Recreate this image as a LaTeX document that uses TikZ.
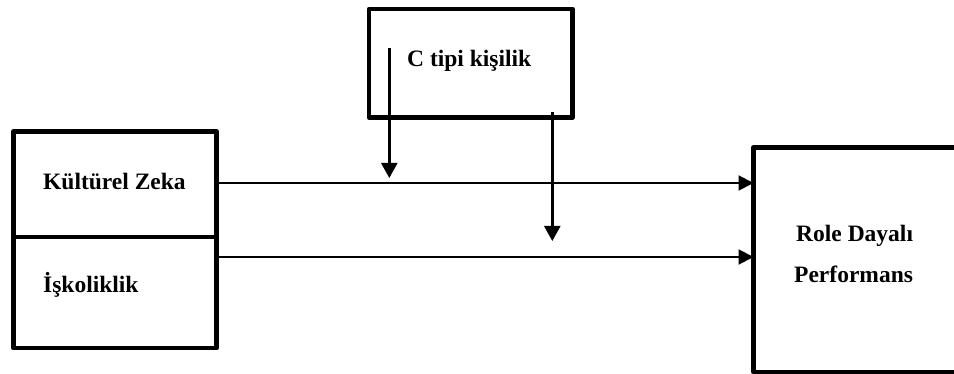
\documentclass[tikz,border=0pt]{standalone}
\usepackage{fontspec}
\setmainfont{Liberation Serif}
\usetikzlibrary{arrows.meta}
\begin{document}
\begin{tikzpicture}[x=1pt,y=-1pt,
  box/.style={draw, line width=4.5pt, line join=round, rectangle, inner sep=0pt, outer sep=0pt},
  lbl/.style={font=\fontsize{23.5}{28}\selectfont\bfseries, inner sep=0pt, anchor=base west},
  link/.style={line width=2pt, -{Triangle[length=15pt,width=15pt]}},
  mod/.style={line width=2.4pt, -{Triangle[length=15pt,width=16pt]}}]
  \useasboundingbox (0,0) rectangle (954,374);

  % predictor boxes
  \node[box, minimum width=203.4pt, minimum height=105.5pt] (kz) at (115,184.25) {};
  \node[box, minimum width=203.4pt, minimum height=111pt] (isk) at (115,292.5) {};
  % moderator box
  \node[box, minimum width=203.5pt, minimum height=108.5pt] (ct) at (470.75,63.25) {};
  % outcome box
  \node[box, minimum width=216.5pt, minimum height=224.5pt] (rdp) at (861.75,259.75) {};

  % labels
  \node[lbl] (kzt) at (43,190) {Kültürel Zeka};
  \node[lbl] (iskt) at (43,293) {İşkoliklik};
  \node[lbl] (ctt) at (407,67) {C tipi kişilik};
  \node[lbl] (rdp1) at (796,242) {Role Dayalı};
  \node[lbl] (rdp2) at (794,283) {Performans};

  % main effects
  \draw[link] ([yshift=1.25pt]kz.east) -- ([yshift=1.25pt]kz.east -| rdp.west);
  \draw[link] ([yshift=-20pt]isk.north east) -- ([yshift=-20pt]isk.north east -| rdp.west);

  % moderation arrows
  \coordinate (m1a) at (389.3,48);
  \coordinate (m1b) at (389.3,178);
  \coordinate (m2a) at (552.3,112);
  \coordinate (m2b) at (552.3,241);
  \draw[mod] (m1a) -- (m1b);
  \draw[mod] (m2a) -- (m2b);
\end{tikzpicture}
\end{document}
